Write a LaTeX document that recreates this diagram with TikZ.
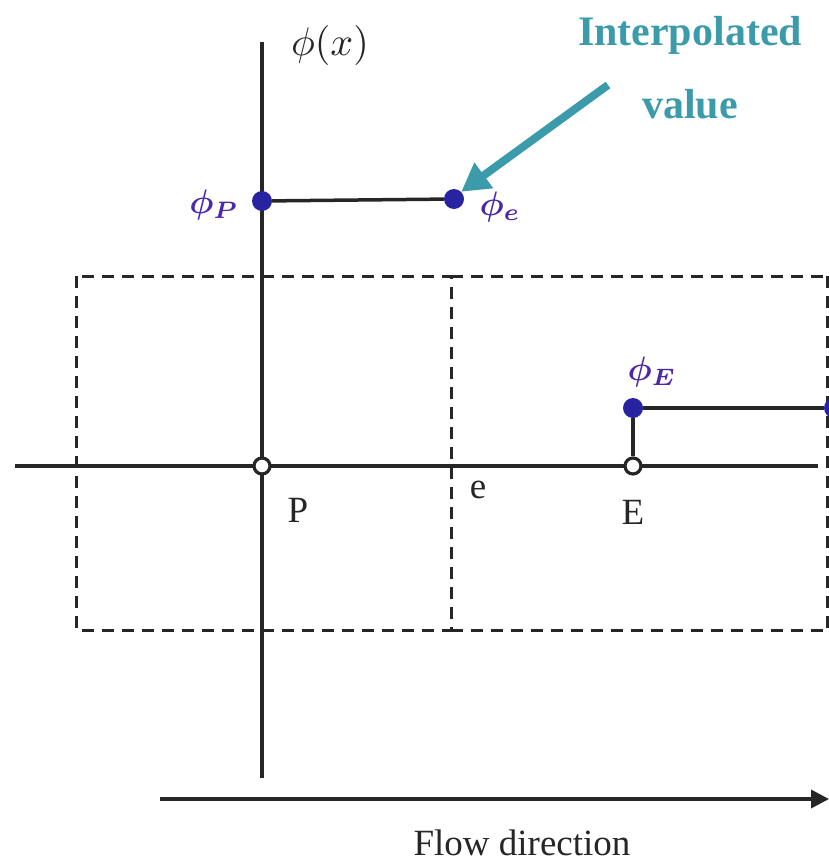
\documentclass[tikz,border=0pt]{standalone}
\usepackage{fontspec}
\setmainfont{Liberation Serif}
\usetikzlibrary{arrows.meta}
\definecolor{dotblue}{RGB}{40,35,160}
\definecolor{lblblue}{RGB}{75,40,170}
\definecolor{teal2}{RGB}{60,155,170}
\newcommand{\bigmath}[2]{\scalebox{#1}{#2}}
\begin{document}
\begin{tikzpicture}[x=1pt,y=-1pt,
  axis/.style={line width=3.5pt,draw=black!85},
  cv/.style={line width=3pt,draw=black!85,dash pattern=on 12pt off 8pt},
  fdot/.style={circle,fill=dotblue,inner sep=0pt,minimum size=20pt},
  odot/.style={circle,fill=white,draw=black!85,line width=3.2pt,inner sep=0pt,minimum size=16pt},
  lbl/.style={font=\fontsize{37}{42}\selectfont,text=black!85},
  plbl/.style={font=\normalsize\boldmath,text=lblblue},
  note/.style={font=\fontsize{42}{48}\selectfont\bfseries,text=teal2}]
\useasboundingbox (0,0) rectangle (829,862);
% control volumes
\draw[cv] (76,276) rectangle (451,630);
\draw[cv] (451,276) -- (829,276);
\draw[cv] (451,630) -- (829,630);
\draw[cv] (827.5,276) -- (827.5,630);
% axes
\coordinate (vt) at (262,42);
\coordinate (vb) at (262,778);
\coordinate (hl) at (15,466);
\coordinate (hr) at (818,466);
\draw[axis] (vt) -- (vb);
\draw[axis] (hl) -- (hr);
% nodes
\node[odot] (P) at (262,466) {};
\node[odot] (E) at (633,466) {};
\node[fdot] (phP) at (262,201) {};
\node[fdot] (phe) at (454,199) {};
\node[fdot] (phE) at (633,408) {};
\node[fdot] (phR) at (834,408) {};
\draw[axis] (phP) -- (phe);
\draw[axis] (E) -- (phE);
\draw[axis] (phE) -- (phR);
% labels
\node[text=black!85,font=\normalsize] (lphix) at (330,45) {\bigmath{4}{$\phi(x)$}};
\node[plbl] (lphP) at (214,205) {\bigmath{3.4}{$\phi_P$}};
\node[plbl] (lphe) at (500,207) {\bigmath{3.4}{$\phi_e$}};
\node[plbl] (lphE) at (652,372) {\bigmath{3.4}{$\phi_E$}};
\node[lbl] (lP) at (298,510) {P};
\node[lbl] (le) at (478,490) {e};
\node[lbl] (lE) at (633,512) {E};
\node[note] (n1) at (690,35) {Interpolated};
\node[note] (n2) at (690,104) {value};
\coordinate (as) at (608,85);
\draw[teal2,line width=8pt,-{Triangle[length=28pt,width=30pt]}] (as) -- (phe.north east);
% flow direction
\coordinate (fl) at (160,799);
\coordinate (fr) at (829,799);
\draw[axis,-{Triangle[length=18pt,width=18pt]}] (fl) -- (fr);
\node[lbl] (fd) at (522,843) {Flow direction};
\end{tikzpicture}
\end{document}
